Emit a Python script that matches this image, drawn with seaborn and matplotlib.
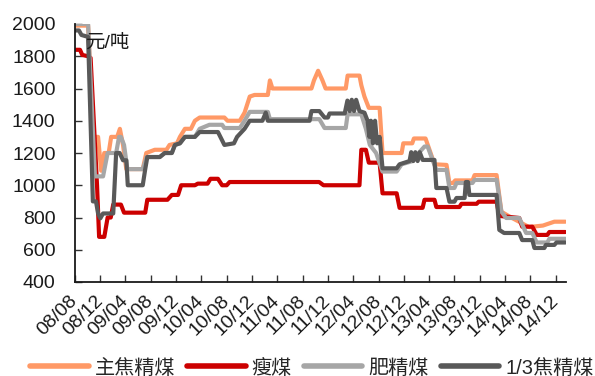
import matplotlib
matplotlib.use("Agg")
import matplotlib.pyplot as plt
import matplotlib.dates as mdates
import pandas as pd
import seaborn as sns

# Weekly coal prices (元/吨), given as turning points of each series
main_coking_dates = [
    "2008-08-01", "2008-10-03", "2008-10-28", "2008-11-20", "2008-12-05", "2008-12-20",
    "2009-01-10", "2009-01-22", "2009-02-20", "2009-03-05", "2009-03-20", "2009-04-05",
    "2009-06-23", "2009-07-10", "2009-08-20", "2009-10-15", "2009-10-30", "2009-12-05",
    "2009-12-19", "2010-01-12", "2010-02-10", "2010-03-01", "2010-03-24", "2010-07-21",
    "2010-08-05", "2010-10-03", "2010-10-26", "2010-11-20", "2010-12-13", "2011-02-15",
    "2011-02-25", "2011-03-09", "2011-09-13", "2011-09-25", "2011-10-15", "2011-11-05",
    "2011-11-20", "2012-02-25", "2012-03-05", "2012-05-01", "2012-05-10", "2012-05-25",
    "2012-06-15", "2012-08-06", "2012-08-20", "2012-11-20", "2012-11-28", "2013-01-10",
    "2013-01-18", "2013-03-15", "2013-04-03", "2013-04-27", "2013-06-24", "2013-07-08",
    "2013-07-25", "2013-08-05", "2013-10-27", "2013-11-06", "2014-02-20", "2014-03-15",
    "2014-05-01", "2014-07-27", "2014-08-11", "2014-10-01", "2014-11-25", "2015-01-17",
]
main_coking_prices = [
    1990, 1990, 1300, 1300, 1090, 1200,
    1200, 1300, 1300, 1350, 1250, 1100,
    1100, 1200, 1220, 1220, 1250, 1260,
    1300, 1350, 1350, 1400, 1420, 1420,
    1400, 1400, 1450, 1550, 1560, 1560,
    1650, 1600, 1600, 1650, 1710, 1650,
    1600, 1600, 1680, 1680, 1620, 1550,
    1480, 1480, 1200, 1200, 1260, 1260,
    1290, 1290, 1220, 1130, 1126, 1014,
    1014, 1030, 1030, 1063, 1063, 836,
    800, 740, 743, 750, 774, 774,
]

lean_dates = [
    "2008-08-01", "2008-08-25", "2008-09-05", "2008-10-03", "2008-10-15", "2008-11-15",
    "2008-11-25", "2008-12-20", "2009-01-05", "2009-01-20", "2009-02-01", "2009-03-10",
    "2009-03-25", "2009-07-05", "2009-07-15", "2009-10-20", "2009-11-10", "2009-12-10",
    "2009-12-25", "2010-03-01", "2010-03-15", "2010-05-01", "2010-05-15", "2010-06-20",
    "2010-07-10", "2010-08-01", "2010-08-15", "2011-10-20", "2011-11-10", "2012-05-01",
    "2012-05-10", "2012-06-01", "2012-06-15", "2012-08-06", "2012-08-20", "2012-10-27",
    "2012-11-10", "2013-03-01", "2013-03-10", "2013-04-27", "2013-05-06", "2013-08-25",
    "2013-09-04", "2013-11-16", "2013-11-26", "2014-02-20", "2014-03-05", "2014-06-09",
    "2014-06-23", "2014-08-11", "2014-09-01", "2014-10-22", "2014-11-01", "2015-01-17",
]
lean_prices = [
    1840, 1840, 1808, 1800, 1790, 1000,
    680, 680, 800, 800, 880, 880,
    830, 830, 910, 910, 940, 940,
    1000, 1000, 1010, 1010, 1040, 1040,
    1000, 1000, 1020, 1020, 1000, 1000,
    1220, 1220, 1140, 1140, 950, 950,
    860, 860, 910, 910, 865, 865,
    885, 885, 898, 898, 810, 797,
    743, 743, 692, 692, 710, 710,
]

fat_dates = [
    "2008-08-01", "2008-10-03", "2008-11-05", "2008-12-14", "2009-01-05", "2009-02-15",
    "2009-03-01", "2009-03-10", "2009-03-25", "2009-04-10", "2009-06-23", "2009-07-12",
    "2009-09-13", "2009-10-07", "2009-11-10", "2009-11-25", "2009-12-19", "2010-01-12",
    "2010-03-01", "2010-03-24", "2010-05-10", "2010-07-10", "2010-07-21", "2010-10-03",
    "2010-10-26", "2010-11-20", "2011-02-15", "2011-02-25", "2011-10-21", "2011-11-15",
    "2012-02-25", "2012-03-05", "2012-05-10", "2012-06-01", "2012-06-20", "2012-07-20",
    "2012-08-20", "2012-10-27", "2012-11-20", "2013-01-12", "2013-02-10", "2013-03-10",
    "2013-03-25", "2013-04-20", "2013-05-06", "2013-06-24", "2013-07-08", "2013-08-01",
    "2013-08-11", "2013-10-27", "2013-11-06", "2014-02-20", "2014-03-15", "2014-04-07",
    "2014-06-09", "2014-07-12", "2014-08-11", "2014-09-01", "2014-10-22", "2014-11-01",
    "2015-01-17",
]
fat_prices = [
    2000, 2000, 1055, 1055, 1200, 1200,
    1300, 1300, 1250, 1100, 1100, 1175,
    1175, 1200, 1200, 1250, 1260, 1300,
    1300, 1350, 1375, 1375, 1355, 1355,
    1400, 1455, 1455, 1410, 1410, 1355,
    1355, 1440, 1440, 1350, 1250, 1200,
    1085, 1085, 1130, 1150, 1200, 1240,
    1240, 1150, 1095, 1095, 983, 983,
    1014, 1014, 1033, 1033, 836, 797,
    797, 704, 704, 645, 645, 668,
    668,
]

third_coking_dates = [
    "2008-08-01", "2008-08-20", "2008-09-01", "2008-10-03", "2008-10-26", "2008-11-10",
    "2008-11-20", "2008-12-01", "2008-12-14", "2009-02-01", "2009-02-15", "2009-03-04",
    "2009-03-20", "2009-04-05", "2009-04-12", "2009-06-23", "2009-07-05", "2009-07-15",
    "2009-09-13", "2009-10-07", "2009-11-10", "2009-11-25", "2009-12-19", "2010-01-12",
    "2010-03-01", "2010-03-24", "2010-06-20", "2010-07-21", "2010-09-05", "2010-09-20",
    "2010-10-26", "2010-11-20", "2011-01-20", "2011-02-05", "2011-02-15", "2011-09-04",
    "2011-09-13", "2011-10-21", "2011-11-15", "2011-12-01", "2011-12-09", "2012-02-20",
    "2012-03-04", "2012-03-15", "2012-03-25", "2012-04-05", "2012-04-15", "2012-05-01",
    "2012-05-25", "2012-06-09", "2012-06-18", "2012-06-25", "2012-07-05", "2012-07-15",
    "2012-07-25", "2012-08-06", "2012-08-20", "2012-10-27", "2012-11-10", "2012-12-28",
    "2013-01-05", "2013-01-15", "2013-01-25", "2013-02-05", "2013-02-15", "2013-03-01",
    "2013-04-27", "2013-05-06", "2013-06-24", "2013-07-08", "2013-08-01", "2013-08-11",
    "2013-09-19", "2013-09-25", "2013-10-05", "2013-10-12", "2014-02-20", "2014-03-05",
    "2014-03-28", "2014-06-09", "2014-06-23", "2014-08-11", "2014-08-21", "2014-10-08",
    "2014-10-15", "2014-11-25", "2014-12-05", "2015-01-17",
]
third_coking_prices = [
    1960, 1960, 1932, 1920, 900, 900,
    825, 795, 825, 825, 1200, 1200,
    1155, 1155, 1000, 1000, 1100, 1175,
    1175, 1200, 1200, 1250, 1260, 1300,
    1300, 1330, 1330, 1250, 1260, 1300,
    1350, 1400, 1400, 1450, 1400, 1400,
    1460, 1460, 1420, 1420, 1445, 1445,
    1525, 1460, 1530, 1460, 1530, 1460,
    1450, 1400, 1300, 1400, 1260, 1400,
    1260, 1300, 1105, 1105, 1130, 1150,
    1205, 1150, 1205, 1150, 1205, 1157,
    1157, 983, 983, 898, 898, 921,
    921, 1020, 1020, 940, 940, 723,
    704, 704, 660, 660, 611, 611,
    630, 630, 645, 645,
]

series_names = ["主焦精煤", "瘦煤", "肥精煤", "1/3焦精煤"]
series_colors = ["#FF9966", "#CC0000", "#A6A6A6", "#595959"]

tick_labels = [
    "08/08", "08/12", "09/04", "09/08", "09/12", "10/04", "10/08", "10/12",
    "11/04", "11/08", "11/12", "12/04", "12/08", "12/12", "13/04", "13/08",
    "13/12", "14/04", "14/08", "14/12",
]
y_ticks = [400, 600, 800, 1000, 1200, 1400, 1600, 1800, 2000]

frames = []
for name, dates, prices in [
    (series_names[0], main_coking_dates, main_coking_prices),
    (series_names[1], lean_dates, lean_prices),
    (series_names[2], fat_dates, fat_prices),
    (series_names[3], third_coking_dates, third_coking_prices),
]:
    frames.append(pd.DataFrame({"日期": pd.to_datetime(dates), "价格": prices, "品种": name}))
df = pd.concat(frames, ignore_index=True)

sns.set_theme(style="white")
plt.rcParams["font.family"] = ["Liberation Sans", "Noto Sans CJK SC", "DejaVu Sans"]
plt.rcParams["axes.unicode_minus"] = False

fig = plt.figure(figsize=(5.95, 3.76), dpi=100)
ax = fig.add_axes([75 / 595, 1 - 282 / 376, 491 / 595, 258 / 376])

sns.lineplot(
    data=df, x="日期", y="价格", hue="品种", hue_order=series_names,
    palette=dict(zip(series_names, series_colors)), estimator=None,
    linewidth=3.0, ax=ax, legend=False,
)
for line in ax.get_lines():
    line.set_solid_joinstyle("round")
    line.set_solid_capstyle("round")

tick_dates = pd.to_datetime(["20" + t.replace("/", "-") + "-01" for t in tick_labels])
ax.set_xlim(pd.Timestamp("2008-08-01"), pd.Timestamp("2015-01-20"))
ax.set_xticks(mdates.date2num(tick_dates))
ax.set_xticklabels(tick_labels, rotation=45, ha="right", va="center",
                   rotation_mode="anchor", fontsize=14, color="#1a1a1a")
ax.set_ylim(400, 2000)
ax.set_yticks(y_ticks)
ax.set_yticklabels([str(v) for v in y_ticks], fontsize=14, color="#1a1a1a")
ax.tick_params(axis="both", direction="in", length=5, width=1, color="#333333",
               bottom=True, left=True)
ax.tick_params(axis="y", pad=14)
ax.tick_params(axis="x", pad=12)
ax.set_xlabel("")
ax.set_ylabel("")

for side in ["top", "right"]:
    ax.spines[side].set_visible(False)
for side in ["left", "bottom"]:
    ax.spines[side].set_color("#1a1a1a")
    ax.spines[side].set_linewidth(1.3)

ax.text(0.02, 0.926, "元/吨", transform=ax.transAxes, fontsize=14,
        ha="left", va="center", color="#1a1a1a")

handles = [plt.Line2D([], [], color=c, linewidth=4, solid_capstyle="round") for c in series_colors]
fig.legend(handles, series_names, loc="center", bbox_to_anchor=(312 / 595, 1 - 368 / 376),
           ncol=4, frameon=False, fontsize=14.5, handlelength=2.9, handletextpad=0.3,
           columnspacing=0.6, borderpad=0, borderaxespad=0)

fig.savefig("out.png", dpi=100)
